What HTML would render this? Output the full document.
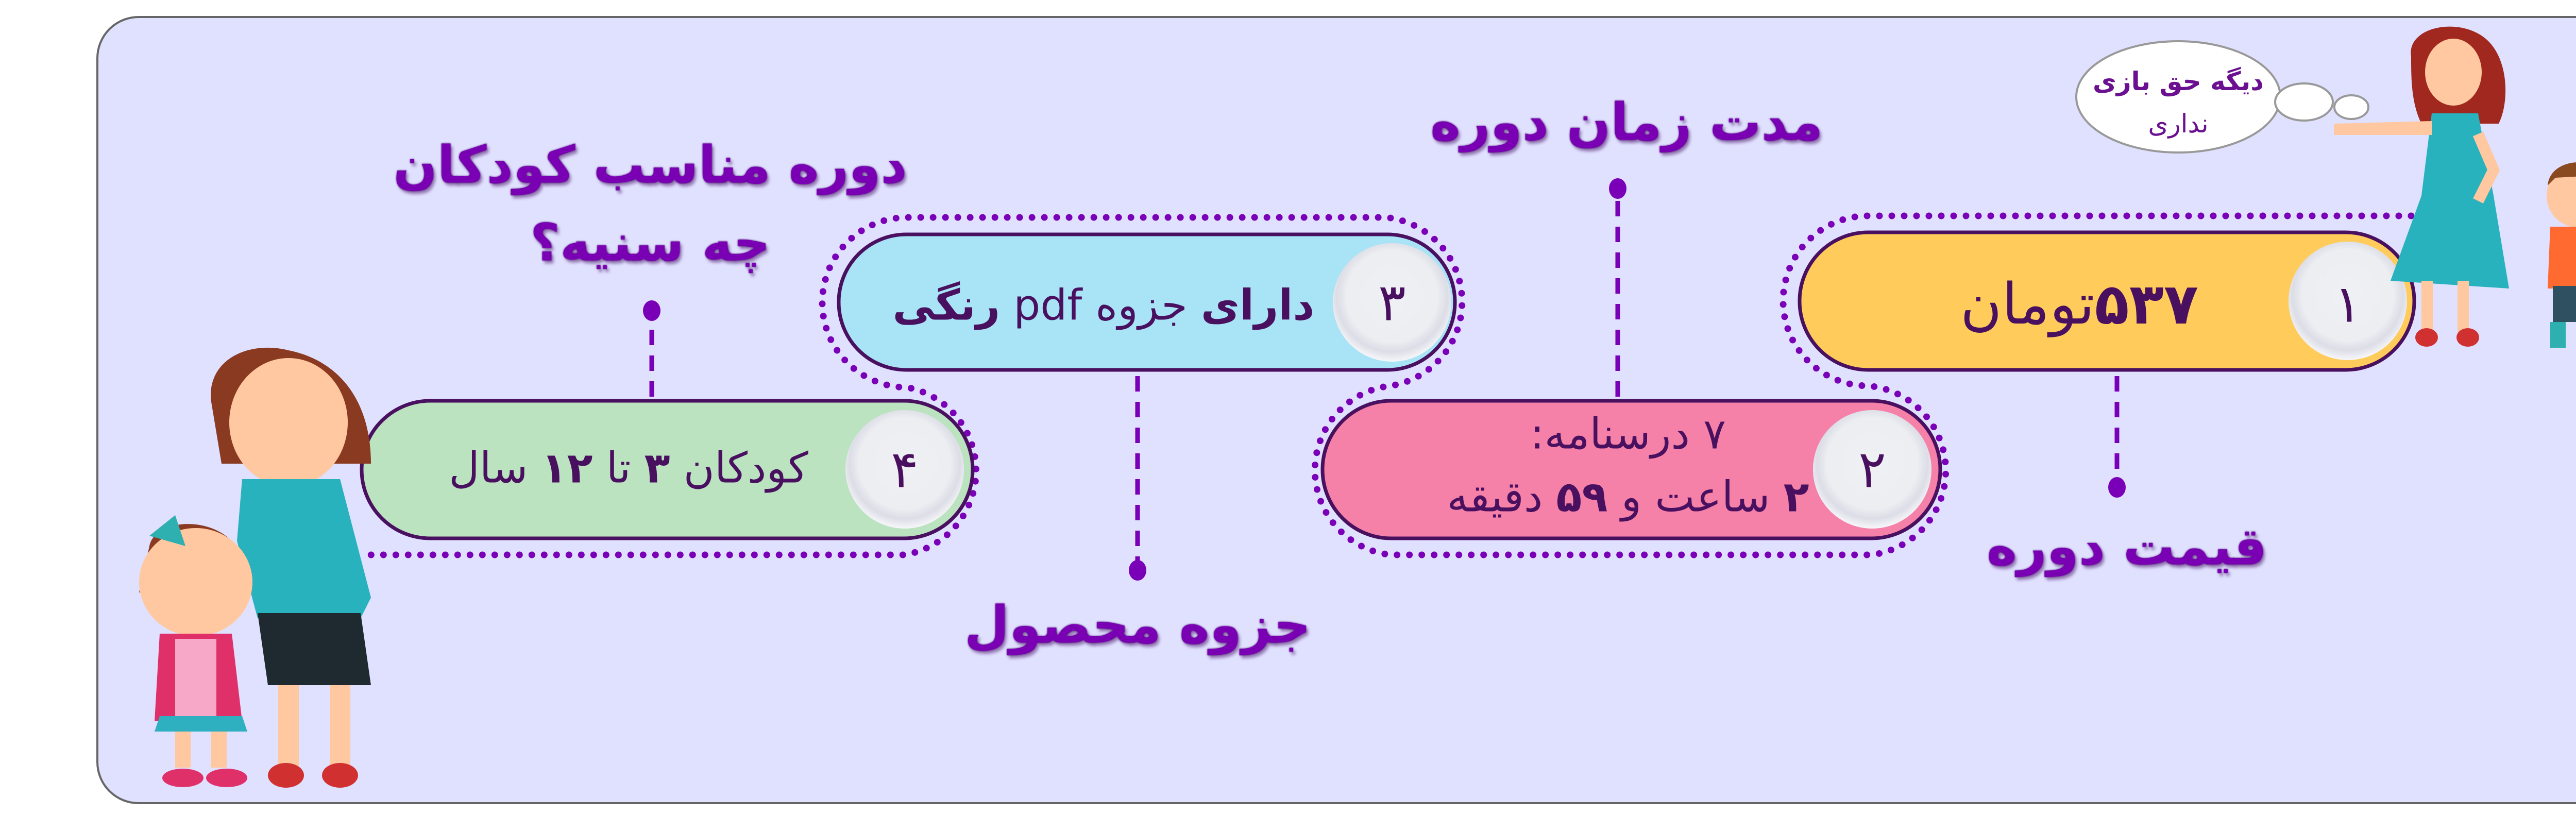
<!DOCTYPE html>
<html><head><meta charset="utf-8"><style>
html,body{margin:0;padding:0;background:#fff}
body{width:5167px;height:1615px;position:relative;overflow:hidden;font-family:"DejaVu Sans","Liberation Sans",sans-serif}
.t{position:absolute;direction:rtl;text-align:center;white-space:nowrap;transform:translate(-50%,-50%)}
.lbl{color:#7a00b4;font-weight:bold;font-size:100px;text-shadow:0 0 3px #3d0060,4px 6px 6px rgba(60,0,90,.45)}
.pt{color:#4a1060;font-size:92px}
</style></head><body>
<svg width="5167" height="1615" style="position:absolute;left:0;top:0">
<defs>
<radialGradient id="cg" cx="50%" cy="45%" r="55%"><stop offset="0" stop-color="#eef0f4"/><stop offset=".7" stop-color="#eceef2"/><stop offset=".85" stop-color="#dcdde6"/><stop offset="1" stop-color="#f7f7fa"/></radialGradient>
</defs>
<rect x="189" y="33" width="4946" height="1526" rx="80" fill="#e0e0ff" stroke="#666" stroke-width="4"/>
<path d="M4680,419 L3626,419 A165,165 0 0 0 3626,749 A165,165 0 0 1 3633,1077 L2700,1077 A165,165 0 0 1 2691,750 A165,165 0 0 0 2691,422 L1761,422 A165,165 0 0 0 1761,752 A165,165 0 0 1 1755,1077 L702,1077" fill="none" stroke="#7a00b8" stroke-width="13" stroke-linecap="round" stroke-dasharray="0 24"/>
<g stroke="#7a00b8" stroke-width="9" stroke-dasharray="30 20" fill="none">
<line x1="4109" y1="730" x2="4109" y2="935"/>
<line x1="3140" y1="770" x2="3140" y2="380"/>
<line x1="2208" y1="730" x2="2208" y2="1095"/>
<line x1="1265" y1="770" x2="1265" y2="615"/>
</g>
<g fill="#7a00b8">
<ellipse cx="4109" cy="946" rx="17" ry="20"/>
<ellipse cx="3140" cy="366" rx="17" ry="20"/>
<ellipse cx="2208" cy="1107" rx="17" ry="20"/>
<ellipse cx="1265" cy="603" rx="17" ry="20"/>
</g>
<g stroke="#4a1060" stroke-width="7">
<rect x="3493" y="451" width="1193" height="267" rx="133" fill="#ffcc5c"/>
<rect x="2567" y="778" width="1199" height="267" rx="133" fill="#f580a8"/>
<rect x="1628" y="455" width="1196" height="263" rx="131" fill="#a8e4f5"/>
<rect x="702" y="778" width="1186" height="267" rx="133" fill="#bbe3c0"/>
</g>
<g fill="url(#cg)">
<circle cx="4557" cy="584" r="115"/>
<circle cx="3634" cy="911" r="115"/>
<circle cx="2702" cy="587" r="115"/>
<circle cx="1756" cy="911" r="115"/>
</g>
<g fill="#fff" stroke="#999" stroke-width="4">
<ellipse cx="4228" cy="188" rx="198" ry="108"/>
<ellipse cx="4472" cy="198" rx="56" ry="36"/>
<ellipse cx="4564" cy="208" rx="33" ry="23"/>
</g>
<!-- woman top right -->
<g>
<path d="M4680,110 C4670,50 4780,30 4830,80 C4870,120 4870,200 4850,240 L4700,240 C4680,200 4680,150 4680,110Z" fill="#a0281e"/>
<ellipse cx="4762" cy="140" rx="55" ry="65" fill="#ffc8a0"/>
<path d="M4720,220 L4810,220 L4840,380 L4870,560 L4640,545 L4700,380Z" fill="#27b2bd"/>
<path d="M4530,240 L4720,235 L4720,262 L4530,262Z" fill="#ffc8a0"/>
<path d="M4810,260 L4840,330 L4810,390" fill="none" stroke="#ffc8a0" stroke-width="22"/>
<rect x="4700" y="545" width="22" height="100" fill="#ffc8a0"/>
<rect x="4770" y="545" width="22" height="100" fill="#ffc8a0"/>
<ellipse cx="4710" cy="655" rx="22" ry="18" fill="#d03030"/>
<ellipse cx="4790" cy="655" rx="22" ry="18" fill="#d03030"/>
</g>
<!-- boy -->
<g>
<circle cx="5005" cy="380" r="62" fill="#ffc8a0"/>
<path d="M4945,360 C4950,300 5060,300 5065,360 L5050,340 L4960,345Z" fill="#8a4a20"/>
<path d="M4950,440 L5060,440 L5070,560 L4945,560Z" fill="#ff6a30"/>
<rect x="4955" y="555" width="110" height="70" fill="#2f5060"/>
<rect x="4950" y="625" width="30" height="50" fill="#2fb0b0"/>
<rect x="5030" y="625" width="30" height="50" fill="#2fb0b0"/>
</g>
<!-- woman left -->
<g>
<path d="M410,780 C400,700 480,660 560,680 C660,700 720,780 720,900 L430,900Z" fill="#8a3a20"/>
<ellipse cx="560" cy="820" rx="115" ry="125" fill="#ffc8a0"/>
<path d="M470,930 L660,930 L720,1160 L700,1200 L500,1200 L460,1050Z" fill="#27b2bd"/>
<path d="M500,1190 L700,1190 L720,1330 L520,1330Z" fill="#1e2a30"/>
<rect x="540" y="1330" width="40" height="170" fill="#ffc8a0"/>
<rect x="640" y="1330" width="40" height="170" fill="#ffc8a0"/>
<ellipse cx="555" cy="1505" rx="35" ry="24" fill="#d03030"/>
<ellipse cx="660" cy="1505" rx="35" ry="24" fill="#d03030"/>
</g>
<!-- girl -->
<g>
<path d="M290,1060 C300,1010 400,1000 450,1050 L470,1150 L270,1150Z" fill="#8a3a20"/>
<ellipse cx="380" cy="1130" rx="110" ry="105" fill="#ffc8a0"/>
<path d="M290,1040 L340,1000 L360,1060Z" fill="#2fb0b0"/>
<path d="M310,1230 L450,1230 L470,1400 L300,1400Z" fill="#e0306a"/>
<rect x="340" y="1240" width="80" height="150" fill="#f7a8c8"/>
<path d="M310,1390 L470,1390 L480,1420 L300,1420Z" fill="#2fb0c0"/>
<rect x="340" y="1420" width="30" height="70" fill="#ffc8a0"/>
<rect x="410" y="1420" width="30" height="70" fill="#ffc8a0"/>
<ellipse cx="355" cy="1510" rx="40" ry="18" fill="#e0306a"/>
<ellipse cx="440" cy="1510" rx="40" ry="18" fill="#e0306a"/>
</g>
</svg>

<div class="t" style="left:4228px;top:158px;color:#6a1090;font-size:50px;font-weight:bold">دیگه حق بازی</div>
<div class="t" style="left:4228px;top:240px;color:#6a1090;font-size:50px">نداری</div>

<div class="t lbl" style="left:4128px;top:1061px">قیمت دوره</div>
<div class="t lbl" style="left:3157px;top:237px">مدت زمان دوره</div>
<div class="t lbl" style="left:2208px;top:1213px">جزوه محصول</div>
<div class="t lbl" style="left:1262px;top:320px">دوره مناسب کودکان</div>
<div class="t lbl" style="left:1262px;top:471px">چه سنیه؟</div>

<div class="t pt" style="left:4036px;top:590px;font-size:110px"><b>۵۳۷</b>تومان</div>
<div class="t pt" style="left:3160px;top:843px;font-size:82px">۷ درسنامه:</div>
<div class="t pt" style="left:3160px;top:965px;font-size:82px"><b>۲</b> ساعت و <b>۵۹</b> دقیقه</div>
<div class="t pt" style="left:2142px;top:593px;font-size:82px"><b>دارای</b> جزوه pdf <b>رنگی</b></div>
<div class="t pt" style="left:1220px;top:909px;font-size:82px">کودکان <b>۳</b> تا <b>۱۲</b> سال</div>

<div class="t pt" style="left:4557px;top:590px;font-size:100px">۱</div>
<div class="t pt" style="left:3634px;top:911px;font-size:100px">۲</div>
<div class="t pt" style="left:2702px;top:587px;font-size:100px">۳</div>
<div class="t pt" style="left:1756px;top:911px;font-size:100px">۴</div>
</body></html>
